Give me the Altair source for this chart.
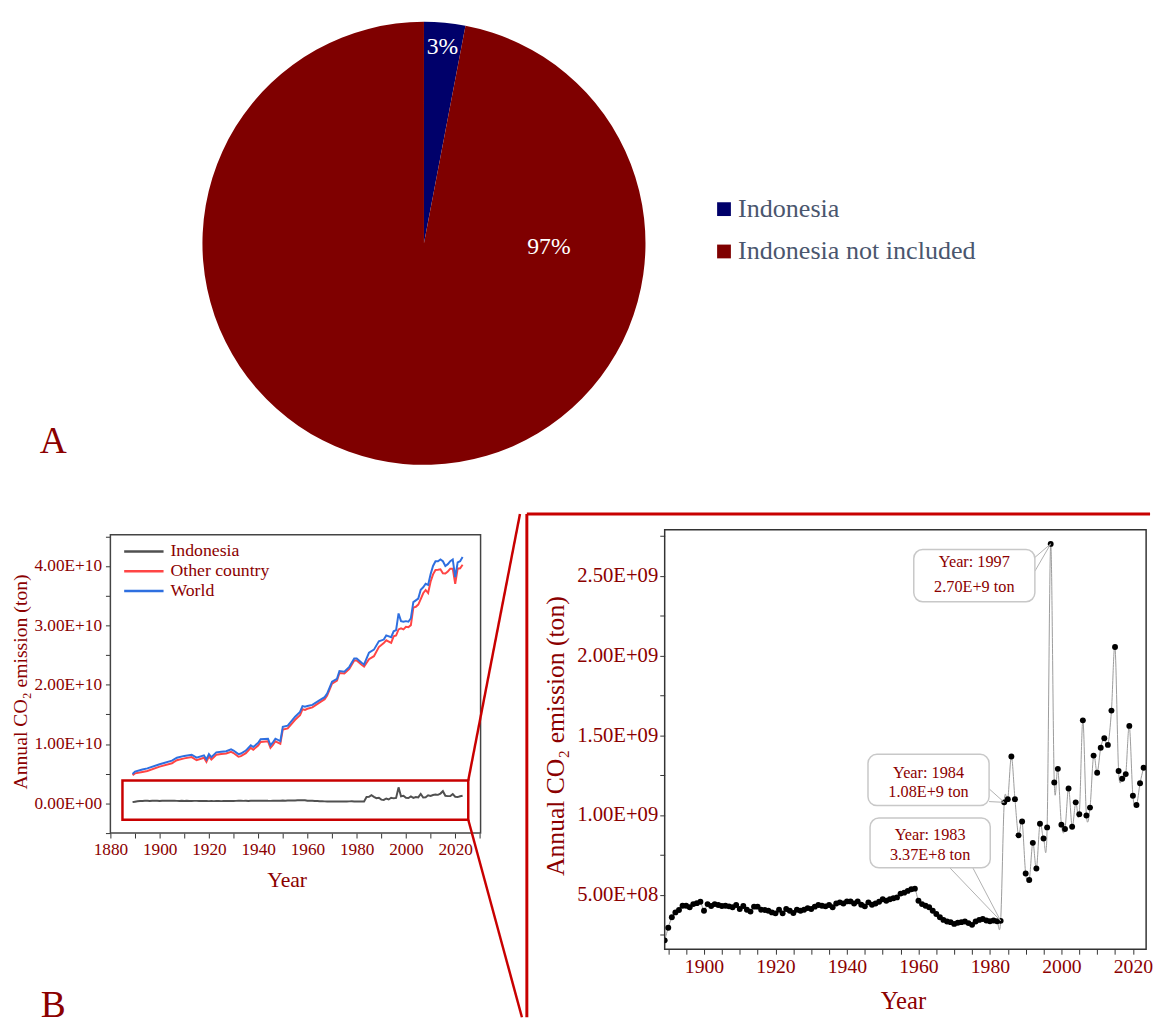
import altair as alt
import pandas as pd

# ---------------- colours / fonts ----------------
MAROON = "#8b0000"
PIE_MAROON = "#7f0000"
NAVY = "#00006a"
SLATE = "#4a566e"
RED = "#c80000"
FONT = "Liberation Serif"

# ---------------- data ----------------
pie_categories = ["Indonesia", "Indonesia not included"]
pie_shares = [3, 97]
pie_labels = ["3%", "97%"]

indo_years = list(range(1889, 2024))
indo_e8 = [
    2.15, 2.94, 3.60, 3.90, 4.05, 4.32, 4.32, 4.22, 4.42, 4.48, 4.57,      # 1889-1899
    4.00, 4.42, 4.30, 4.42, 4.36, 4.30, 4.32, 4.28, 4.22, 4.36,            # 1900s
    4.11, 4.30, 4.07, 3.95, 4.26, 4.26, 4.07, 4.05, 4.00, 3.90,            # 1910s
    3.84, 4.07, 3.84, 4.11, 4.00, 3.86, 4.07, 4.00, 4.07, 4.17,            # 1920s
    4.11, 4.26, 4.36, 4.32, 4.28, 4.36, 4.22, 4.46, 4.53, 4.46,            # 1930s
    4.59, 4.59, 4.46, 4.59, 4.38, 4.28, 4.53, 4.38, 4.46, 4.57,            # 1940s
    4.73, 4.63, 4.73, 4.79, 4.84, 5.08, 5.14, 5.25, 5.35, 5.39,            # 1950s
    4.63, 4.42, 4.32, 4.22, 4.00, 3.80, 3.60, 3.43, 3.33, 3.29,            # 1960s
    3.18, 3.25, 3.29, 3.33, 3.23, 3.12, 3.33, 3.43, 3.49, 3.39,            # 1970s
    3.35, 3.39, 3.35, 3.37,                                                # 1980-1983
    10.8, 11.0, 13.67, 11.0, 8.73, 9.60,                                   # 1984-1989
    6.34, 5.93, 8.26, 6.65, 9.46, 8.53, 9.23, 27.0, 12.04, 12.9,           # 1990s
    9.40, 9.13, 11.67, 9.27, 10.8, 10.06, 15.94, 9.97, 10.47, 13.73,       # 2000s
    12.65, 14.22, 14.82, 14.40, 16.55, 20.54, 12.76, 12.28, 12.57, 15.59,  # 2010s
    11.21, 10.63, 12.0, 12.97,                                             # 2020-2023
]

world_years = [
    1889, 1890, 1893, 1895, 1900, 1905, 1907, 1910, 1913, 1915,
    1918, 1919, 1920, 1921, 1923, 1925, 1927, 1929, 1930, 1932,
    1933, 1935, 1937, 1938, 1940, 1941, 1944, 1945, 1946, 1947,
    1949, 1950, 1952, 1955, 1957, 1958, 1959, 1960, 1962, 1965,
    1967, 1968, 1970, 1972, 1973, 1975, 1977, 1979, 1980, 1982,
    1983, 1985, 1987, 1989, 1991, 1992, 1994, 1995, 1996, 1997,
    1998, 1999, 2000, 2001, 2002, 2003, 2004, 2005, 2006, 2007,
    2008, 2009, 2010, 2011, 2012, 2013, 2014, 2015, 2016, 2017,
    2018, 2019, 2020, 2021, 2022, 2023,
]
world_e9 = [
    4.97, 5.35, 5.70, 5.90, 6.60, 7.20, 7.70, 8.00, 8.20, 7.70,
    8.10, 7.40, 8.30, 7.80, 8.60, 8.70, 8.80, 9.10, 8.90, 8.30,
    8.40, 8.90, 9.80, 9.50, 10.2, 10.8, 10.9, 9.80, 10.3, 10.9,
    10.5, 12.9, 13.1, 14.6, 15.4, 16.4, 16.3, 16.4, 16.6, 17.4,
    17.9, 18.5, 20.5, 21.0, 22.3, 22.2, 23.0, 24.4, 24.4, 23.7,
    23.4, 25.4, 25.9, 27.3, 27.6, 28.3, 28.0, 29.0, 29.2, 32.0,
    30.7, 30.6, 30.7, 30.6, 31.2, 33.9, 34.2, 34.5, 36.0, 36.4,
    37.0, 36.8, 38.6, 40.0, 40.8, 40.8, 41.1, 40.8, 40.0, 40.3,
    40.8, 41.1, 38.1, 40.6, 40.8, 41.5,
]
other_e9 = [
    4.76, 5.06, 5.30, 5.47, 6.20, 6.77, 7.27, 7.59, 7.80, 7.27,
    7.70, 7.01, 7.92, 7.39, 8.19, 8.31, 8.40, 8.68, 8.49, 7.86,
    7.97, 8.46, 9.35, 9.05, 9.74, 10.34, 10.46, 9.37, 9.85, 10.46,
    10.04, 12.43, 12.63, 14.09, 14.87, 15.86, 15.76, 15.94, 16.17, 17.02,
    17.56, 18.17, 20.18, 20.67, 21.97, 21.89, 22.66, 24.06, 24.06, 23.36,
    23.06, 24.30, 24.80, 26.34, 27.01, 27.47, 27.05, 28.15, 28.28, 29.30,
    29.50, 29.31, 29.76, 29.69, 30.03, 32.97, 33.12, 33.49, 34.41, 35.40,
    35.95, 35.43, 37.33, 38.58, 39.32, 39.36, 39.44, 38.75, 38.72, 39.07,
    39.54, 39.54, 36.98, 39.54, 39.60, 40.20,
]
series_names = ["Indonesia", "Other country", "World"]
series_colors = ["#505050", "#ff4545", "#2e6fe0"]

callout_years = [1997, 1984, 1983]
callout_tons = [2.70e9, 1.08e9, 3.37e8]
callout_line1 = ["Year: 1997", "Year: 1984", "Year: 1983"]
callout_line2 = ["2.70E+9 ton", "1.08E+9 ton", "3.37E+8 ton"]

# zoom window drawn on the overview chart (data units)
zoom_years = [1884.9, 2025.3]
zoom_tons = [-2.76e9, 3.86e9]

assert len(indo_years) == len(indo_e8)
assert len(world_years) == len(world_e9) == len(other_e9)

indo_ton = [v * 1e8 for v in indo_e8]
indo_df = pd.DataFrame({"year": indo_years, "ton": indo_ton})
small_df = pd.concat([
    pd.DataFrame({"year": indo_years, "ton": indo_ton, "series": "Indonesia"}),
    pd.DataFrame({"year": world_years, "ton": [v * 1e9 for v in other_e9], "series": "Other country"}),
    pd.DataFrame({"year": world_years, "ton": [v * 1e9 for v in world_e9], "series": "World"}),
], ignore_index=True)
pie_df = pd.DataFrame({"category": pie_categories, "share": pie_shares, "label": pie_labels})
one = pd.DataFrame({"k": [0]})

SCI = "replace(replace(format(datum.value, '.2e'), 'e+', 'E+0'), 'E+010', 'E+10')"
YEAR_LBL = "datum.value % 20 == 0 ? format(datum.value, 'd') : ''"

def axis(**kw):
    base = dict(domain=False, ticks=True, tickSize=5, tickColor="#333333", tickWidth=1,
                tickCount=500,
                labelColor=MAROON, labelFont=FONT, labelFlush=False, labelOverlap=False,
                labelBound=False, titleColor=MAROON, titleFont=FONT, titleFontWeight="normal",
                grid=False, titleBaseline="middle", titleAlign="center")
    base.update(kw)
    return alt.Axis(**base)

# ---------------- panel A : pie ----------------
pie_base = alt.Chart(pie_df)
arcs = pie_base.mark_arc(outerRadius=225).encode(
    theta=alt.Theta("share:Q", stack=True),
    order=alt.Order("share:Q", sort="ascending"),
    color=alt.Color("category:N",
                    scale=alt.Scale(domain=pie_categories, range=[NAVY, PIE_MAROON]),
                    legend=alt.Legend(title=None, orient="none", legendX=610, legendY=183,
                                      symbolType="square", symbolSize=196, symbolStrokeWidth=0,
                                      labelFontSize=26.5, labelColor=SLATE, labelFont=FONT,
                                      labelLimit=600, rowPadding=16, labelOffset=1, padding=0)),
)
lbl_small = pie_base.transform_calculate(
    t="datum.category == 'Indonesia' ? datum.label : ''"
).mark_text(radius=200, fontSize=24, color="white", font=FONT).encode(
    theta=alt.Theta("share:Q", stack=True),
    order=alt.Order("share:Q", sort="ascending"),
    text="t:N",
)
lbl_big = pie_base.transform_filter(
    alt.datum.category == "Indonesia not included"
).mark_text(radius=127, theta=1.6, fontSize=24, color="white", font=FONT).encode(text="label:N")
letter_a = alt.Chart(one).mark_text(text="A", fontSize=38, color=MAROON, font=FONT,
                                    align="center", baseline="alphabetic").encode(
    x=alt.value(-58), y=alt.value(444))
pie = alt.layer(arcs, lbl_small, lbl_big, letter_a).properties(
    width=637, height=462, view=alt.ViewBackground(strokeOpacity=0))

# ---------------- panel B left : overview ----------------
SMALL_W, SMALL_H = 376, 308
sx = alt.X("year:Q", scale=alt.Scale(domain=[1880, 2030.3], nice=False, zero=False),
           axis=axis(values=list(range(1880, 2031, 10)), labelExpr=YEAR_LBL, labelFontSize=17.5,
                     labelPadding=3, title="Year", titleFontSize=22, titleX=179, titleY=47))
sy = alt.Y("ton:Q", scale=alt.Scale(domain=[-5e9, 4.608e10], nice=False, zero=False),
           axis=axis(values=[5000000000 * k for k in range(-1, 10)],
                     labelExpr=f"(datum.value >= 0 && datum.value % 10000000000 == 0) ? {SCI} : ''",
                     labelFontSize=17.5, labelPadding=4,
                     title="Annual CO₂ emission (ton)", titleFontSize=20, titleX=-91, titleY=154,
                     titleAngle=-90))
lines = alt.Chart(small_df).mark_line(strokeWidth=2).encode(
    x=sx, y=sy,
    color=alt.Color("series:N", scale=alt.Scale(domain=series_names, range=series_colors),
                    legend=alt.Legend(title=None, orient="none", legendX=25, legendY=13,
                                      symbolType="M-4,0H4", symbolSize=100, symbolStrokeWidth=2.5,
                                      labelFontSize=18, labelColor=MAROON, labelFont=FONT,
                                      labelLimit=600, rowPadding=2, labelOffset=18, padding=0)),
)
frame_small = alt.Chart(one).mark_rect(fillOpacity=0, stroke="#444444", strokeWidth=1.5).encode(
    x=alt.value(0), x2=alt.value(SMALL_W), y=alt.value(5), y2=alt.value(SMALL_H))
zoom_box = alt.Chart(one).mark_rect(fillOpacity=0, stroke=RED, strokeWidth=2.5).encode(
    x=alt.datum(zoom_years[0]), x2=alt.datum(zoom_years[1]),
    y=alt.datum(zoom_tons[1]), y2=alt.datum(zoom_tons[0]))
conn_top = alt.Chart(one).mark_rule(color=RED, strokeWidth=2.5).encode(
    x=alt.datum(zoom_years[1]), y=alt.datum(zoom_tons[1]), x2=alt.value(416), y2=alt.value(-16))
conn_bot = alt.Chart(one).mark_rule(color=RED, strokeWidth=2.5).encode(
    x=alt.datum(zoom_years[1]), y=alt.datum(zoom_tons[0]), x2=alt.value(418), y2=alt.value(495))
letter_b = alt.Chart(one).mark_text(text="B", fontSize=38, color=MAROON, font=FONT,
                                    align="center", baseline="alphabetic").encode(
    x=alt.value(-58), y=alt.value(495))
small = alt.layer(lines, frame_small, zoom_box, conn_top, conn_bot, letter_b).properties(
    width=SMALL_W, height=SMALL_H, view=alt.ViewBackground(strokeOpacity=0))

# ---------------- panel B right : zoom ----------------
BIG_W, BIG_H = 489, 426
bx = alt.X("year:Q", scale=alt.Scale(domain=[1889, 2023.7], nice=False, zero=False),
           axis=axis(values=list(range(1890, 2024, 5)), labelExpr=YEAR_LBL, labelFontSize=20,
                     labelPadding=3, title="Year", titleFontSize=25, titleX=242, titleY=52))
by = alt.Y("ton:Q", scale=alt.Scale(domain=[1.59e8, 2.788e9], nice=False, zero=False),
           axis=axis(values=[250000000 * k for k in range(1, 12)],
                     labelExpr=f"(datum.value % 500000000 == 0) ? {SCI} : ''",
                     labelFontSize=21, labelPadding=2,
                     title="Annual CO₂ emission (ton)", titleFontSize=26, titleX=-111, titleY=209,
                     titleAngle=-90))
indo_line = alt.Chart(indo_df).mark_line(color="#9a9a9a", strokeWidth=1, interpolate="cardinal",
                                         clip=True).encode(x=bx, y=by)
indo_pts = alt.Chart(indo_df).mark_circle(size=36, color="black", opacity=1, clip=True).encode(
    x="year:Q", y="ton:Q")

# callout layout (pixels inside the zoom panel)
callout_boxes = [(253, 376, 20, 73), (206.5, 329.5, 228, 280), (208.6, 330.7, 292.7, 343.3)]
callout_text_pos = [(314.5, 33, 58), (268, 246.7, 266.7), (269.6, 310, 330)]
callout_tails = [((376, 28), (376, 42)), ((329.5, 263), (329.5, 276)),
                 ((289.7, 343.3), (313, 343.3))]

tail_layers, box_layers, text_layers = [], [], []
for i in range(len(callout_years)):
    for (px, py) in callout_tails[i]:
        tail_layers.append(alt.Chart(one).mark_rule(color="#b0b0b0", strokeWidth=1).encode(
            x=alt.datum(callout_years[i]), y=alt.datum(callout_tons[i]),
            x2=alt.value(px), y2=alt.value(py)))
    x1, x2, y1, y2 = callout_boxes[i]
    box_layers.append(alt.Chart(one).mark_rect(cornerRadius=9, fill="white", stroke="#c8c8c8",
                                               strokeWidth=1.5).encode(
        x=alt.value(x1), x2=alt.value(x2), y=alt.value(y1), y2=alt.value(y2)))
    tx, ty1, ty2 = callout_text_pos[i]
    for txt, ty in ((callout_line1[i], ty1), (callout_line2[i], ty2)):
        text_layers.append(alt.Chart(one).mark_text(text=txt, fontSize=16.5, color=MAROON,
                                                    font=FONT, align="center",
                                                    baseline="middle").encode(
            x=alt.value(tx), y=alt.value(ty)))

red_top = alt.Chart(one).mark_rule(color=RED, strokeWidth=3).encode(
    x=alt.value(-140), x2=alt.value(493), y=alt.value(-16), y2=alt.value(-16))
red_left = alt.Chart(one).mark_rule(color=RED, strokeWidth=3).encode(
    x=alt.value(-140), x2=alt.value(-140), y=alt.value(-16), y2=alt.value(495))

big = alt.layer(indo_line, indo_pts, *tail_layers, *box_layers, *text_layers,
                red_top, red_left).properties(
    width=BIG_W, height=BIG_H,
    view=alt.ViewBackground(stroke="#333333", strokeWidth=1.5))

bottom = alt.hconcat(small, big, spacing=187, bounds="flush").resolve_scale(color="independent")

chart = alt.vconcat(pie, bottom, spacing=60, bounds="flush").resolve_scale(
    color="independent").properties(
    padding={"left": 3, "top": 0, "right": 0, "bottom": 0}).configure(font=FONT)

chart.save("out.html", embed_options={"renderer": "svg", "actions": False})
